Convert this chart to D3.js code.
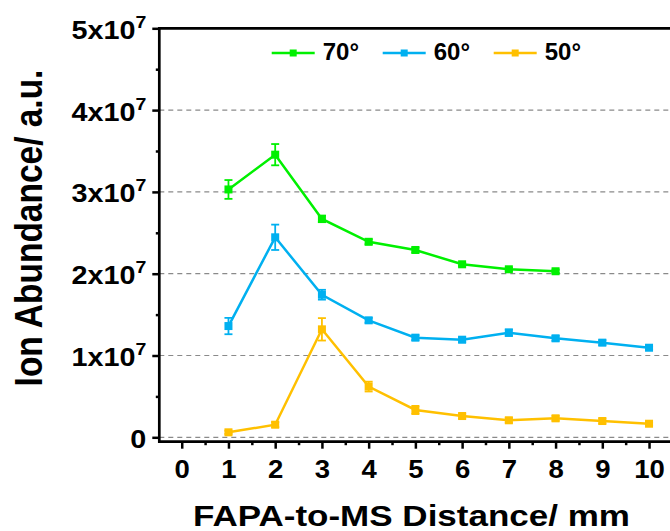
<!DOCTYPE html>
<html>
<head>
<meta charset="utf-8">
<script src="https://d3js.org/d3.v7.min.js"></script>
<style>
body {margin:0; background-color:#fff;}
text {font-family:"Liberation Sans", Arial, sans-serif; font-weight:bold; fill:#000;}
</style>
</head>
<body>
<svg width="670" height="531"></svg>
<script>
// data (ion abundance, a.u.)
var distance = [1,2,3,4,5,6,7,8,9,10]
var xTicks = [0,1,2,3,4,5,6,7,8,9,10]
var yTicks = [0,1e7,2e7,3e7,4e7,5e7]
var yTickBase = ['0','1x10','2x10','3x10','4x10','5x10']
var yTickExp = ['','7','7','7','7','7']
var names = ['70°','60°','50°']
var colors = ['#00f000','#00b0f0','#ffc000']

var abund70 = [3.03e7,3.455e7,2.67e7,2.39e7,2.29e7,2.115e7,2.054e7,2.03e7]
var err70 = [0.115e7,0.13e7,0.04e7,0.03e7,0.03e7,0.02e7,0.02e7,0.02e7]
var abund60 = [1.36e7,2.445e7,1.743e7,1.43e7,1.218e7,1.193e7,1.279e7,1.21e7,1.157e7,1.095e7]
var err60 = [0.1e7,0.155e7,0.06e7,0.03e7,0.03e7,0.03e7,0.04e7,0.03e7,0.03e7,0.02e7]
var abund50 = [0.061e7,0.154e7,1.32e7,0.62e7,0.334e7,0.26e7,0.208e7,0.232e7,0.199e7,0.166e7]
var err50 = [0.02e7,0.03e7,0.137e7,0.06e7,0.05e7,0.03e7,0.03e7,0.03e7,0.03e7,0.02e7]

var allVals = [abund70, abund60, abund50]
var allErrs = [err70, err60, err50]

var svg = d3.select('svg')

//scales
var x = d3.scaleLinear().domain([-0.48,10.5]).range([159.3,672.4])
var y = d3.scaleLinear().domain([0,5e7]).range([437.3,28.3])
var axisY = 441.7   // x axis sits a little below zero
var right = 670

//dashed grid lines
svg.append('g').selectAll('line')
  .data(yTicks.slice(0,5))
  .enter().append('line')
    .attr('x1',x(-0.48)).attr('x2',right)
    .attr('y1',function(d){return y(d)}).attr('y2',function(d){return y(d)})
    .attr('stroke','#8a8a8a').attr('stroke-width',1.2)
    .attr('stroke-dasharray','5,4')

//y axis ticks
var yAxis = svg.append('g')
  .attr('transform','translate('+x(-0.48)+',0)')
  .call(d3.axisLeft(y).tickValues(yTicks).tickSize(7).tickFormat(''))
yAxis.select('.domain').remove()
yAxis.selectAll('line').attr('stroke','#000').attr('stroke-width',2.5)
yAxis.selectAll('.tick').each(function(d,i){
  var t = d3.select(this).append('text')
    .attr('text-anchor','end')
    .attr('font-size',25)
    .attr('transform','translate(-13,10) scale(1.15,1)')
  t.append('tspan').text(yTickBase[i])
  if (yTickExp[i]) {
    t.append('tspan').attr('font-size',17).attr('dy',-11).text(yTickExp[i])
  }
})
var yMinor = svg.append('g')
  .attr('transform','translate('+x(-0.48)+',0)')
  .call(d3.axisLeft(y).tickValues([0.5e7,1.5e7,2.5e7,3.5e7,4.5e7]).tickSize(3.5).tickFormat(''))
yMinor.select('.domain').remove()
yMinor.selectAll('line').attr('stroke','#000').attr('stroke-width',2.5)

//x axis ticks
var xAxis = svg.append('g')
  .attr('transform','translate(0,'+axisY+')')
  .call(d3.axisBottom(x).tickValues(xTicks).tickSize(7).tickFormat(''))
xAxis.select('.domain').remove()
xAxis.selectAll('line').attr('stroke','#000').attr('stroke-width',2.5)
xAxis.selectAll('.tick').append('text')
  .attr('text-anchor','middle')
  .attr('font-size',25)
  .attr('transform','translate(0,36) scale(1.1,1)')
  .text(function(d){return d})
var xMinor = svg.append('g')
  .attr('transform','translate(0,'+axisY+')')
  .call(d3.axisBottom(x).tickValues([0.5,1.5,2.5,3.5,4.5,5.5,6.5,7.5,8.5,9.5]).tickSize(3.5).tickFormat(''))
xMinor.select('.domain').remove()
xMinor.selectAll('line').attr('stroke','#000').attr('stroke-width',2.5)

//frame lines
svg.append('line')
  .attr('x1',x(-0.48)).attr('x2',x(-0.48))
  .attr('y1',y(5e7)-1.3).attr('y2',axisY+1.3)
  .attr('stroke','#000').attr('stroke-width',2.7)
svg.append('line')
  .attr('x1',x(-0.48)).attr('x2',right)
  .attr('y1',axisY).attr('y2',axisY)
  .attr('stroke','#000').attr('stroke-width',2.7)
svg.append('line')
  .attr('x1',x(-0.48)).attr('x2',right)
  .attr('y1',y(5e7)).attr('y2',y(5e7))
  .attr('stroke','#000').attr('stroke-width',2.7)

//series
var line = d3.line()
  .x(function(d){return x(d.d)})
  .y(function(d){return y(d.v)})

allVals.forEach(function(vals,k){
  var pts = vals.map(function(v,i){return {d:distance[i], v:v, e:allErrs[k][i]}})
  var g = svg.append('g')
  g.append('path')
    .datum(pts)
    .attr('d',line)
    .attr('fill','none')
    .attr('stroke',colors[k])
    .attr('stroke-width',2.5)
  //error bars
  var eb = g.selectAll('.err').data(pts).enter().append('g')
  eb.append('line')
    .attr('x1',function(d){return x(d.d)}).attr('x2',function(d){return x(d.d)})
    .attr('y1',function(d){return y(d.v+d.e)}).attr('y2',function(d){return y(d.v-d.e)})
    .attr('stroke',colors[k]).attr('stroke-width',1.8)
  eb.append('line')
    .attr('x1',function(d){return x(d.d)-4}).attr('x2',function(d){return x(d.d)+4})
    .attr('y1',function(d){return y(d.v+d.e)}).attr('y2',function(d){return y(d.v+d.e)})
    .attr('stroke',colors[k]).attr('stroke-width',1.8)
  eb.append('line')
    .attr('x1',function(d){return x(d.d)-4}).attr('x2',function(d){return x(d.d)+4})
    .attr('y1',function(d){return y(d.v-d.e)}).attr('y2',function(d){return y(d.v-d.e)})
    .attr('stroke',colors[k]).attr('stroke-width',1.8)
  //markers
  g.selectAll('rect').data(pts).enter().append('rect')
    .attr('x',function(d){return x(d.d)-4})
    .attr('y',function(d){return y(d.v)-4})
    .attr('width',8).attr('height',8)
    .attr('fill',colors[k])
})

//legend
var legend = svg.append('g').selectAll('g')
  .data(names)
  .enter().append('g')
    .attr('transform',function(d,i){return 'translate('+(271.7+i*111)+',53)'})
legend.append('line')
  .attr('x1',0).attr('x2',43).attr('y1',0).attr('y2',0)
  .attr('stroke',function(d,i){return colors[i]}).attr('stroke-width',2.5)
legend.append('rect')
  .attr('x',18).attr('y',-3.5).attr('width',7).attr('height',7)
  .attr('fill',function(d,i){return colors[i]})
legend.append('text')
  .attr('x',51).attr('y',7)
  .attr('font-size',24)
  .text(function(d){return d})

//axis titles
svg.append('text')
  .attr('x',193).attr('y',526)
  .attr('font-size',29.5)
  .attr('textLength',437).attr('lengthAdjust','spacingAndGlyphs')
  .text('FAPA-to-MS Distance/ mm')
svg.append('text')
  .attr('text-anchor','middle')
  .attr('font-size',33.5)
  .attr('transform','translate(42,228) rotate(-90) scale(1,1.17)')
  .text('Ion Abundance/ a.u.')
</script>
</body>
</html>
